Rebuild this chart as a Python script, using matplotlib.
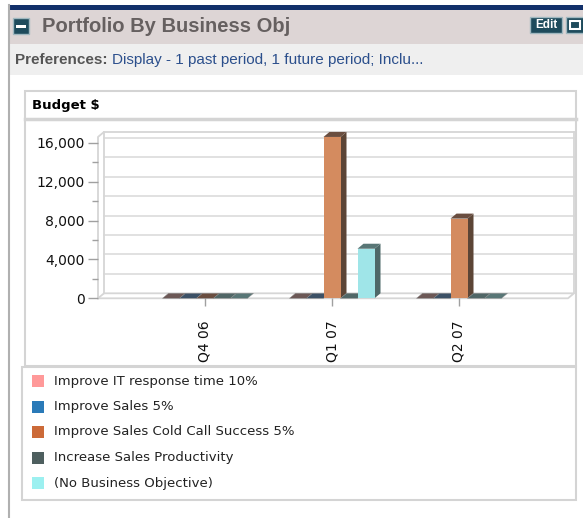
import matplotlib
matplotlib.use('Agg')
import matplotlib.pyplot as plt
from matplotlib.patches import Rectangle, Polygon

# data
categories = ['Q4 06', 'Q1 07', 'Q2 07']
series_names = ['Improve IT response time 10%', 'Improve Sales 5%',
                'Improve Sales Cold Call Success 5%', 'Increase Sales Productivity',
                '(No Business Objective)']
budget = [
    [0, 0, 0],          # Improve IT response time 10%
    [0, 0, 0],          # Improve Sales 5%
    [0, 16600, 8200],   # Improve Sales Cold Call Success 5%
    [0, 0, 0],          # Increase Sales Productivity
    [0, 5100, 0],       # (No Business Objective)
]
yticks_major = [0, 4000, 8000, 12000, 16000]
yticks_minor = [2000, 6000, 10000, 14000]

legend_colors = ['#ff9999', '#2a7ab8', '#cc6a38', '#4e5f5f', '#9cf0f0']
front_colors = ['#ff9999', '#2a7ab8', '#d48b5f', '#4e5f5f', '#9fe5e8']
side_colors = ['#6e5a58', '#3a4f62', '#5c4536', '#4a5c5c', '#4d6868']
top_colors = ['#6c5856', '#3c5166', '#6a4e40', '#506666', '#587676']

W, H = 583, 518
fig = plt.figure(figsize=(W / 100, H / 100), dpi=100)
fig.patch.set_facecolor('white')

# page decoration in pixel coords
bg = fig.add_axes([0, 0, 1, 1])
bg.set_xlim(0, W)
bg.set_ylim(H, 0)
bg.axis('off')

bg.add_patch(Rectangle((8, 5), W - 8, 5, color='#12306a', lw=0))
bg.add_patch(Rectangle((8, 10), W - 8, 34, color='#ddd5d5', lw=0))
bg.add_patch(Rectangle((8, 44), W - 8, 31, color='#efefef', lw=0))
bg.plot([8.5, 8.5], [5, H], color='#b0b0b0', lw=1.5)

# collapse icon
bg.add_patch(Rectangle((13, 18), 16, 16, facecolor='#1e4b5c', edgecolor='#a0b8c0', lw=1))
bg.add_patch(Rectangle((16, 24.5), 10, 3, color='white', lw=0))
bg.text(42, 27, 'Portfolio By Business Obj', fontsize=14.5, fontweight='bold',
        color='#666060', va='center', ha='left',
        family=['Liberation Sans Narrow', 'Liberation Sans', 'DejaVu Sans'])

# edit / maximize buttons
bg.add_patch(Rectangle((530, 17), 32, 16, facecolor='#1e4b5c', edgecolor='#a0b8c0', lw=1))
bg.text(546, 25.5, 'Edit', fontsize=8.5, fontweight='bold', color='white', ha='center',
        va='center', family=['Liberation Sans', 'DejaVu Sans'])
bg.add_patch(Rectangle((566, 17), 20, 16, facecolor='#1e4b5c', edgecolor='#a0b8c0', lw=1))
bg.add_patch(Rectangle((570, 21), 10, 8, facecolor='none', edgecolor='white', lw=1.5))

pref = bg.text(15, 60, 'Preferences:', fontsize=11, fontweight='bold', color='#555555',
               va='center', ha='left', family=['Liberation Sans', 'DejaVu Sans'])
bg.annotate('Display - 1 past period, 1 future period; Inclu...', xy=(1, 0.5),
            xycoords=pref, xytext=(3, 0), textcoords='offset points', fontsize=11,
            color='#2b4f8c', va='center', ha='left', family=['Liberation Sans', 'DejaVu Sans'])

# chart box
bg.add_patch(Rectangle((25, 91), 551, 275, facecolor='none', edgecolor='#d4d4d4', lw=1.5))
bg.plot([25, 576], [119, 119], color='#d4d4d4', lw=2.5)
bg.text(32, 105, 'Budget $', fontsize=9.5, fontweight='bold', color='black',
        va='center', ha='left')
bg.add_patch(Rectangle((22, 367), 554, 133, facecolor='none', edgecolor='#d4d4d4', lw=1.5))

# legend
for i, name in enumerate(series_names):
    yc = 381 + i * 25.5
    bg.add_patch(Rectangle((32, yc - 6), 12, 12, color=legend_colors[i], lw=0))
    bg.text(54, yc, name, fontsize=9.5, color='#222222', va='center', ha='left')

# chart axes
px_per_unit_x = 127.0
px_per_val = 0.00972
x0_px = 205.0
floor_px = 298.3
ax_left_px, ax_right_px, ax_top_px = 98.0, 578.0, 126.0
ax = fig.add_axes([ax_left_px / W, (H - floor_px) / H,
                   (ax_right_px - ax_left_px) / W, (floor_px - ax_top_px) / H])
ax.patch.set_alpha(0)
ax.set_xlim((ax_left_px - x0_px) / px_per_unit_x, (ax_right_px - x0_px) / px_per_unit_x)
ax.set_ylim(0, (floor_px - ax_top_px) / px_per_val)
for sp in ax.spines.values():
    sp.set_visible(False)

dx = 6 / px_per_unit_x
dy = 5 / px_per_val
xl = (ax_left_px - x0_px) / px_per_unit_x
xr = (568 - x0_px) / px_per_unit_x
top = max(max(s) for s in budget)
wall = '#d6d6d6'

# walls and floor
for v in yticks_minor + yticks_major[1:]:
    ax.plot([xl + dx, xr + dx], [v + dy, v + dy], color='#dedede', lw=1.3, clip_on=False, zorder=1)
ax.plot([xl + dx, xr + dx], [top + dy, top + dy], color=wall, lw=1.3, clip_on=False, zorder=1)
ax.plot([xl, xl, xl + dx, xl + dx, xl], [0, top, top + dy, dy, 0], color=wall, lw=1.3,
        clip_on=False, zorder=1)
ax.plot([xl, xr, xr + dx, xl + dx], [0, 0, dy, dy], color=wall, lw=1.3, clip_on=False, zorder=1)
ax.plot([xr + dx, xr + dx], [dy, top + dy], color=wall, lw=1.3, clip_on=False, zorder=1)

# 3d bars
n = len(series_names)
w = 17 / px_per_unit_x
z = 2
for c in range(len(categories)):
    for s in range(n):
        v = budget[s][c]
        x = c - n / 2 * w + s * w
        if v > 0:
            ax.add_patch(Polygon([(x + w, 0), (x + w + dx, dy), (x + w + dx, v + dy), (x + w, v)],
                                 closed=True, facecolor=side_colors[s], lw=0, zorder=z, clip_on=False))
            ax.add_patch(Polygon([(x, v), (x + dx, v + dy), (x + w + dx, v + dy), (x + w, v)],
                                 closed=True, facecolor=top_colors[s], lw=0, zorder=z, clip_on=False))
            ax.bar(x, v, width=w, align='edge', color=front_colors[s], lw=0, zorder=z, clip_on=False)
        else:
            ax.add_patch(Polygon([(x, 0), (x + dx, dy), (x + w + dx, dy), (x + w, 0)],
                                 closed=True, facecolor=top_colors[s], edgecolor='#8a8a8a',
                                 lw=0.3, zorder=z, clip_on=False))
        z += 1

ax.set_yticks(yticks_major)
ax.set_yticklabels(['{:,}'.format(t) for t in yticks_major])
ax.set_yticks(yticks_minor, minor=True)
ax.tick_params(axis='y', which='major', length=7.5, width=1, color='#a0a0a0', pad=2,
               labelsize=10, labelcolor='#111111')
ax.tick_params(axis='y', which='minor', length=4.5, width=1, color='#a0a0a0')
ax.set_xticks(range(len(categories)))
ax.set_xticklabels(categories, rotation=90, va='top')
ax.tick_params(axis='x', length=6, width=1, color='#a0a0a0', pad=10, labelsize=10,
               labelcolor='#111111')

fig.savefig('out.png', dpi=100)
